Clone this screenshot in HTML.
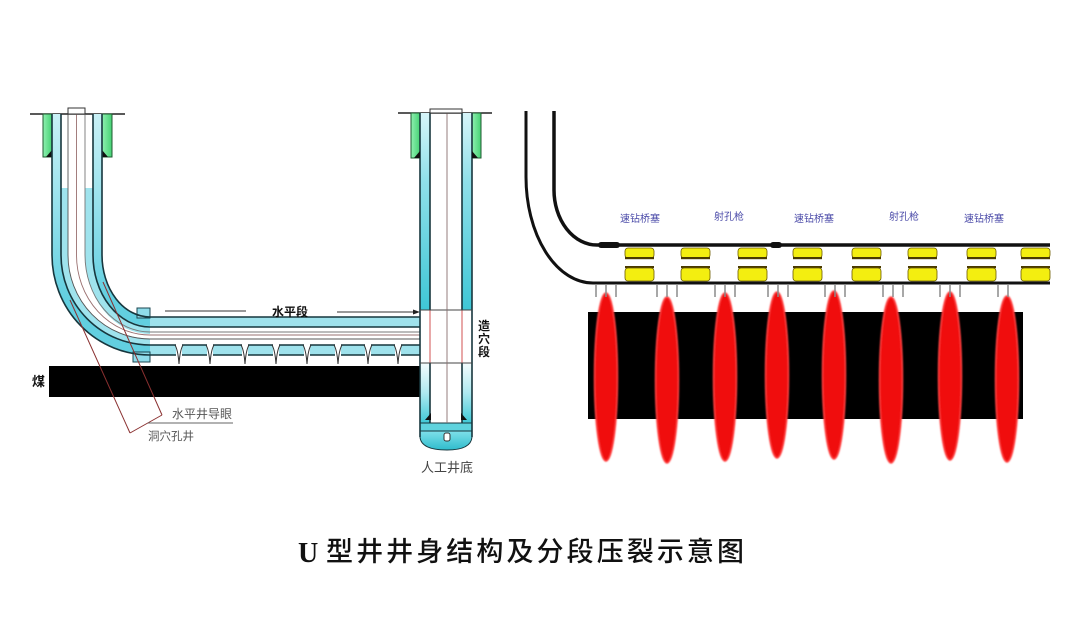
<!DOCTYPE html>
<html><head><meta charset="utf-8"><style>
html,body{margin:0;padding:0;background:#fff;}
svg{display:block;}
</style></head><body>
<svg width="1080" height="618" viewBox="0 0 1080 618" xmlns="http://www.w3.org/2000/svg">
<defs>
<linearGradient id="cyL" gradientUnits="userSpaceOnUse" x1="0" y1="114" x2="0" y2="300">
<stop offset="0" stop-color="#c9f1f6"/><stop offset="0.4" stop-color="#a0e4ee"/><stop offset="1" stop-color="#62cfe0"/>
</linearGradient>
<linearGradient id="cyR" gradientUnits="userSpaceOnUse" x1="0" y1="113" x2="0" y2="310">
<stop offset="0" stop-color="#d6f5f9"/><stop offset="0.35" stop-color="#8fdfe9"/><stop offset="1" stop-color="#3fc7d6"/>
</linearGradient>
<linearGradient id="cyLow" gradientUnits="userSpaceOnUse" x1="0" y1="363" x2="0" y2="423">
<stop offset="0" stop-color="#f4fcfd"/><stop offset="0.5" stop-color="#aee9f0"/><stop offset="1" stop-color="#3fc8d6"/>
</linearGradient>
<linearGradient id="gr" x1="0" y1="0" x2="1" y2="0">
<stop offset="0" stop-color="#8ff0b0"/><stop offset="1" stop-color="#45d274"/>
</linearGradient>
<linearGradient id="shoe" x1="0" y1="0" x2="0" y2="1">
<stop offset="0" stop-color="#7fe0ea"/><stop offset="1" stop-color="#2fbccc"/>
</linearGradient>
<filter id="soft" x="-50%" y="-10%" width="200%" height="120%"><feGaussianBlur stdDeviation="0.8"/></filter>
</defs>

<rect width="1080" height="618" fill="#fff"/>

<!-- ============ LEFT WELL ============ -->
<rect x="49" y="366" width="371" height="31" fill="#000"/>
<text x="32" y="386" font-family="Liberation Sans, 'Noto Sans CJK SC', sans-serif" font-size="13" font-weight="bold" fill="#111">煤</text>

<line x1="30" y1="114" x2="125" y2="114" stroke="#222" stroke-width="1.5"/>
<rect x="43" y="114" width="9" height="43" fill="url(#gr)" stroke="#1f5a30" stroke-width="1"/>
<rect x="102" y="114" width="10" height="43" fill="url(#gr)" stroke="#1f5a30" stroke-width="1"/>
<polygon points="52,150 52,157 46,157" fill="#111"/>
<polygon points="102,150 102,157 108,157" fill="#111"/>

<path d="M56.5,114 V255 A93.5,95 0 0 0 150,350" fill="none" stroke="url(#cyL)" stroke-width="9"/>
<path d="M97.5,114 V255 A52.5,67 0 0 0 150,322" fill="none" stroke="url(#cyL)" stroke-width="10"/>
<path d="M64.5,188 V255 A85.5,87 0 0 0 150,342" fill="none" stroke="#9fe3ed" stroke-width="7"/>
<path d="M89,188 V255 A61,75 0 0 0 150,330" fill="none" stroke="#9fe3ed" stroke-width="8"/>

<rect x="150" y="317" width="270" height="10" fill="#9fe2ec"/>
<rect x="150" y="345" width="270" height="10" fill="#9fe2ec"/>
<rect x="137" y="308" width="13" height="10" fill="#8fdcea" stroke="#1b4650" stroke-width="1"/>
<rect x="133" y="352" width="17" height="10" fill="#8fdcea" stroke="#1b4650" stroke-width="1"/>

<g fill="none" stroke="#17363d" stroke-width="1.6">
<path d="M52,114 V255 A98,100 0 0 0 150,355 H420"/>
<path d="M61,114 V255 A89,90 0 0 0 150,345 H420"/>
<path d="M93,114 V255 A57,72 0 0 0 150,327 H420"/>
<path d="M102,114 V255 A48,62 0 0 0 150,317 H420"/>
</g>
<g fill="none" stroke-width="0.9">
<path d="M68,108 V255 A82,84 0 0 0 150,339 H420" stroke="#555"/>
<path d="M85,108 V255 A65,77 0 0 0 150,332 H420" stroke="#777"/>
<path d="M76.5,108 V255 A73.5,80 0 0 0 150,335 H420" stroke="#9a7070"/>
</g>
<rect x="68" y="108" width="17" height="6" fill="#fff" stroke="#333" stroke-width="1"/>

<g>
<rect x="176" y="344" width="6" height="12" fill="#fff"/>
<rect x="207" y="344" width="6" height="12" fill="#fff"/>
<rect x="242" y="344" width="6" height="12" fill="#fff"/>
<rect x="273" y="344" width="6" height="12" fill="#fff"/>
<rect x="304" y="344" width="6" height="12" fill="#fff"/>
<rect x="335" y="344" width="6" height="12" fill="#fff"/>
<rect x="365" y="344" width="6" height="12" fill="#fff"/>
<rect x="395" y="344" width="6" height="12" fill="#fff"/>
</g>
<g fill="none" stroke="#333" stroke-width="1">
<path d="M175,345 Q178,350 179,364 Q180,350 183,345"/>
<path d="M206,345 Q209,350 210,364 Q211,350 214,345"/>
<path d="M241,345 Q244,350 245,364 Q246,350 249,345"/>
<path d="M272,345 Q275,350 276,364 Q277,350 280,345"/>
<path d="M303,345 Q306,350 307,364 Q308,350 311,345"/>
<path d="M334,345 Q337,350 338,364 Q339,350 342,345"/>
<path d="M364,345 Q367,350 368,364 Q369,350 372,345"/>
<path d="M394,345 Q397,350 398,364 Q399,350 402,345"/>
</g>

<g fill="none" stroke="#8a3030" stroke-width="1">
<line x1="103" y1="282" x2="162" y2="415"/>
<line x1="70" y1="300" x2="130" y2="433"/>
<line x1="130" y1="433" x2="162" y2="415"/>
</g>
<line x1="148" y1="423" x2="233" y2="423" stroke="#666" stroke-width="1"/>
<text x="172" y="418" font-family="Liberation Sans, 'Noto Sans CJK SC', sans-serif" font-size="12" fill="#555">水平井导眼</text>
<text x="148" y="440" font-family="Liberation Sans, 'Noto Sans CJK SC', sans-serif" font-size="11.5" fill="#555">洞穴孔井</text>

<line x1="165" y1="311" x2="246" y2="311" stroke="#333" stroke-width="1"/>
<text x="272" y="316" font-family="Liberation Sans, 'Noto Sans CJK SC', sans-serif" font-size="12" font-weight="bold" fill="#111">水平段</text>
<line x1="337" y1="312" x2="416" y2="312" stroke="#333" stroke-width="1"/>
<polygon points="420,312 413,309.5 413,314.5" fill="#222"/>

<!-- ============ RIGHT VERTICAL WELL ============ -->
<line x1="398" y1="113" x2="492" y2="113" stroke="#222" stroke-width="1.5"/>
<rect x="411" y="113" width="9" height="45" fill="url(#gr)" stroke="#1f5a30" stroke-width="1"/>
<rect x="472" y="113" width="9" height="45" fill="url(#gr)" stroke="#1f5a30" stroke-width="1"/>
<rect x="420" y="113" width="10" height="197" fill="url(#cyR)"/>
<rect x="462" y="113" width="10" height="197" fill="url(#cyR)"/>
<rect x="420" y="363" width="10" height="60" fill="url(#cyLow)"/>
<rect x="462" y="363" width="10" height="60" fill="url(#cyLow)"/>
<rect x="420" y="423" width="52" height="8" fill="#5fd3de" stroke="#17363d" stroke-width="1"/>
<path d="M420,431 V437 Q421,450 447,450 Q471,450 472,437 V431 Z" fill="url(#shoe)" stroke="#17363d" stroke-width="1"/>
<rect x="444" y="433" width="6" height="8" rx="2" fill="#fff" stroke="#333" stroke-width="1"/>
<g stroke="#17363d" stroke-width="1.6">
<line x1="420" y1="113" x2="420" y2="437"/>
<line x1="472" y1="113" x2="472" y2="437"/>
<line x1="430" y1="113" x2="430" y2="310"/>
<line x1="462" y1="113" x2="462" y2="310"/>
<line x1="430" y1="363" x2="430" y2="423"/>
<line x1="462" y1="363" x2="462" y2="423"/>
</g>
<line x1="430" y1="310" x2="430" y2="363" stroke="#d05050" stroke-width="1"/>
<line x1="462" y1="310" x2="462" y2="363" stroke="#d05050" stroke-width="1"/>
<line x1="420" y1="310" x2="472" y2="310" stroke="#444" stroke-width="1"/>
<line x1="420" y1="363" x2="472" y2="363" stroke="#444" stroke-width="1"/>
<line x1="447" y1="109" x2="447" y2="423" stroke="#8a7070" stroke-width="0.9"/>
<rect x="430" y="109" width="32" height="4" fill="#fff" stroke="#333" stroke-width="1"/>
<polygon points="425,420 431,413 431,420" fill="#111"/>
<polygon points="467,420 461,413 461,420" fill="#111"/>
<polygon points="420,151 420,158 414,158" fill="#111"/>
<polygon points="472,151 472,158 478,158" fill="#111"/>
<g font-family="Liberation Sans, 'Noto Sans CJK SC', sans-serif" font-size="12" font-weight="bold" fill="#111">
<text x="478" y="330">造</text>
<text x="478" y="343">穴</text>
<text x="478" y="356">段</text>
</g>
<text x="421" y="472" font-family="Liberation Sans, 'Noto Sans CJK SC', sans-serif" font-size="13" fill="#444">人工井底</text>

<!-- ============ RIGHT DIAGRAM ============ -->
<rect x="588" y="312" width="435" height="107" fill="#000"/>
<g fill="#f00a0a" stroke="#ff4040" stroke-width="1.5" filter="url(#soft)">
<ellipse cx="606" cy="377" rx="11.5" ry="84"/>
<ellipse cx="667" cy="380" rx="11.5" ry="83"/>
<ellipse cx="725" cy="377" rx="11.5" ry="84"/>
<ellipse cx="777" cy="375" rx="11.5" ry="83"/>
<ellipse cx="834" cy="375" rx="11.5" ry="84"/>
<ellipse cx="891" cy="380" rx="11.5" ry="83"/>
<ellipse cx="950" cy="376" rx="11.5" ry="84"/>
<ellipse cx="1007" cy="379" rx="11.5" ry="83"/>
</g>

<path d="M526,111 V177 A67,106 0 0 0 593,283 H1050" fill="none" stroke="#111" stroke-width="3"/>
<path d="M554,111 V190 A43,55 0 0 0 597,245 H1050" fill="none" stroke="#111" stroke-width="3.5"/>
<rect x="598" y="242" width="22" height="6" rx="3" fill="#111"/>
<rect x="770" y="242" width="12" height="6" rx="3" fill="#111"/>

<g stroke="#8a8a8a" stroke-width="1.5">
<line x1="596" y1="284" x2="596" y2="297"/><line x1="606" y1="284" x2="606" y2="297"/><line x1="616" y1="284" x2="616" y2="297"/>
<line x1="657" y1="284" x2="657" y2="297"/><line x1="667" y1="284" x2="667" y2="297"/><line x1="677" y1="284" x2="677" y2="297"/>
<line x1="715" y1="284" x2="715" y2="297"/><line x1="725" y1="284" x2="725" y2="297"/><line x1="735" y1="284" x2="735" y2="297"/>
<line x1="768" y1="284" x2="768" y2="297"/><line x1="778" y1="284" x2="778" y2="297"/><line x1="788" y1="284" x2="788" y2="297"/>
<line x1="825" y1="284" x2="825" y2="297"/><line x1="835" y1="284" x2="835" y2="297"/><line x1="845" y1="284" x2="845" y2="297"/>
<line x1="883" y1="284" x2="883" y2="297"/><line x1="893" y1="284" x2="893" y2="297"/><line x1="903" y1="284" x2="903" y2="297"/>
<line x1="940" y1="284" x2="940" y2="297"/><line x1="950" y1="284" x2="950" y2="297"/><line x1="960" y1="284" x2="960" y2="297"/>
<line x1="998" y1="284" x2="998" y2="297"/><line x1="1008" y1="284" x2="1008" y2="297"/>
</g>

<g>
<g id="pk">
<rect x="625" y="248" width="29" height="10" rx="3" fill="#f3ee10" stroke="#6b5a00" stroke-width="0.8"/>
<rect x="625" y="257" width="29" height="2.2" fill="#4a3a00"/>
<rect x="625" y="266" width="29" height="2.2" fill="#4a3a00"/>
<rect x="625" y="268" width="29" height="13" rx="3" fill="#f3ee10" stroke="#6b5a00" stroke-width="0.8"/>
</g>
<use href="#pk" x="56"/>
<use href="#pk" x="113"/>
<use href="#pk" x="168"/>
<use href="#pk" x="227"/>
<use href="#pk" x="283"/>
<use href="#pk" x="342"/>
<use href="#pk" x="396"/>
</g>

<g font-family="Liberation Sans, 'Noto Sans CJK SC', sans-serif" font-size="10" fill="#4a4aa8">
<text x="620" y="222">速钻桥塞</text>
<text x="714" y="220">射孔枪</text>
<text x="794" y="222">速钻桥塞</text>
<text x="889" y="220">射孔枪</text>
<text x="964" y="222">速钻桥塞</text>
</g>

<!-- title -->
<text x="298" y="562" font-family="Liberation Serif, serif" font-size="28" font-weight="bold" fill="#111">U</text>
<text x="326" y="561" textLength="418" lengthAdjust="spacing" font-family="Liberation Sans, 'Noto Sans CJK SC', sans-serif" font-size="27" font-weight="500" fill="#111">型井井身结构及分段压裂示意图</text>
</svg>
</body></html>
